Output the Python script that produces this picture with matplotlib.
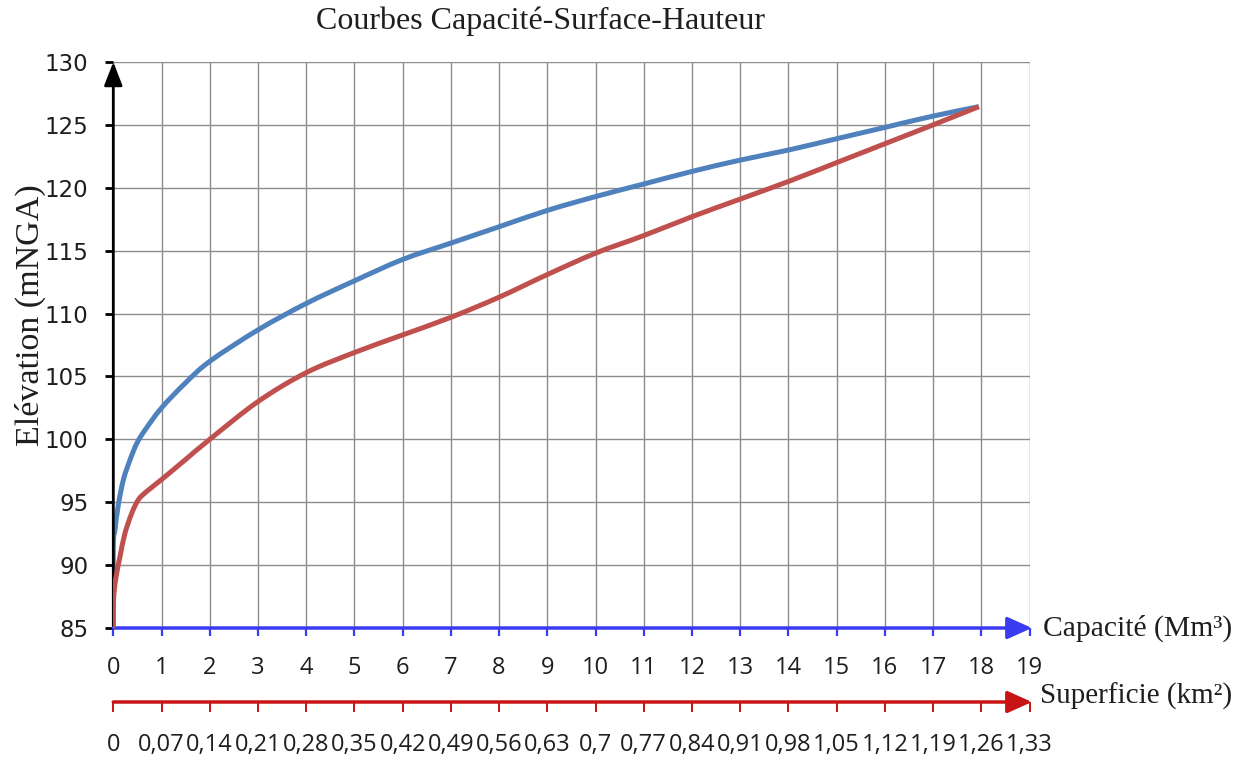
import matplotlib
matplotlib.use("Agg")
import matplotlib.pyplot as plt
from matplotlib.path import Path
from matplotlib.patches import PathPatch

# Courbe capacité : volume stocké (Mm³) selon la cote du plan d'eau
cap_elev = [85, 91.5, 92.8, 94.7, 96.8, 98.4, 99.7, 100.75, 102.5,
            104.5, 106.2, 108.7, 110.8, 112.6, 114.3, 115.6, 116.9, 118.2,
            119.3, 120.3, 121.3, 122.2, 123.0, 123.9, 124.8, 125.7, 126.45]
cap_volume = [0, 0, 0.035, 0.10, 0.21, 0.35, 0.49, 0.66, 1.0,
              1.5, 2, 3, 4, 5, 6, 7, 8, 9,
              10, 11, 12, 13, 14, 15, 16, 17, 17.95]

# Courbe surface : superficie du plan d'eau (km²) selon la cote
surf_elev = [85, 87.2, 88.9, 90.7, 92.5, 94.1, 95.2, 95.85, 96.8, 98.4,
             100.0, 103.0, 105.3, 106.9, 108.3, 109.7, 111.3, 113.1, 114.8,
             116.2, 117.7, 119.1, 120.5, 122.0, 123.5, 125.0, 126.45]
surf_area = [0, 0.0003, 0.0035, 0.0098, 0.0168, 0.0266, 0.0364, 0.0483,
             0.070, 0.105, 0.14, 0.21, 0.28, 0.35, 0.42, 0.49, 0.56, 0.63,
             0.70, 0.77, 0.84, 0.91, 0.98, 1.05, 1.12, 1.19, 1.2565]

cap_ticks = list(range(0, 20))
area_step = 0.07
area_ticks = [round(i * area_step, 2) for i in cap_ticks]
elev_ticks = list(range(85, 131, 5))


def fr_label(v):
    s = f"{v:.2f}".rstrip("0").rstrip(".")
    return s.replace(".", ",")


area_labels = [fr_label(v) for v in area_ticks]
cap_labels = [str(t) for t in cap_ticks]
elev_labels = [str(t) for t in elev_ticks]


def smooth_path(xs, ys):
    """Courbe lissée (Bézier de type Catmull-Rom) passant par tous les points."""
    pts = list(zip(xs, ys))
    n = len(pts)
    verts = [pts[0]]
    codes = [Path.MOVETO]
    for i in range(n - 1):
        p0 = pts[i - 1] if i > 0 else pts[i]
        p1 = pts[i]
        p2 = pts[i + 1]
        p3 = pts[i + 2] if i + 2 < n else pts[i + 1]
        c1 = (p1[0] + (p2[0] - p0[0]) / 6, p1[1] + (p2[1] - p0[1]) / 6)
        c2 = (p2[0] - (p3[0] - p1[0]) / 6, p2[1] - (p3[1] - p1[1]) / 6)
        verts += [c1, c2, p2]
        codes += [Path.CURVE4] * 3
    return Path(verts, codes)


label_font = ["Open Sans", "DejaVu Sans"]
serif = ["Liberation Serif", "DejaVu Serif"]

c_cap = "#4F81BD"
c_surf = "#C0504D"
c_cap_axis = "#3B3BF2"
c_surf_axis = "#C81414"
c_grid = "#8C8C8C"

W, H = 1243, 760
fig = plt.figure(figsize=(W / 100, H / 100), dpi=100)
fig.patch.set_facecolor("white")

x0, x1, y_top, y_bot = 113.3, 1029.5, 62, 628
ax = fig.add_axes([x0 / W, 1 - y_bot / H, (x1 - x0) / W, (y_bot - y_top) / H])
ax.set_xlim(0, 19)
ax.set_ylim(85, 130)
for s in ax.spines.values():
    s.set_visible(False)
ax.set_axisbelow(True)
ax.grid(True, color=c_grid, lw=1.0)

ax.set_yticks(elev_ticks, labels=elev_labels, fontsize=16.5, family="DejaVu Sans")
ax.tick_params(axis="y", direction="out", length=6, width=2, color="black",
               labelcolor="#1E1E1E", pad=12)
ax.set_xticks(cap_ticks, labels=cap_labels, fontsize=17, family=label_font)
ax.tick_params(axis="x", direction="out", length=6, width=1.6, color=c_cap_axis,
               labelcolor="#1E1E1E", pad=14)

ax.add_patch(PathPatch(smooth_path(cap_volume, cap_elev), fill=False,
                       edgecolor=c_cap, lw=3.6, capstyle="butt", zorder=3))

# axe de la superficie, avec sa propre échelle en km²
ax2 = ax.twiny()
ax2.set_xlim(0, 19 * area_step)
ax2.set_ylim(85, 130)
for s in ax2.spines.values():
    s.set_visible(False)
surf_pos = -(702 - y_bot) / (y_bot - y_top)
ax2.spines["bottom"].set_position(("axes", surf_pos))
ax2.xaxis.set_ticks_position("bottom")
ax2.xaxis.set_label_position("bottom")
ax2.set_xticks(area_ticks, labels=area_labels, fontsize=17, family=label_font)
ax2.tick_params(axis="x", direction="out", length=7, width=1.4, color=c_surf_axis,
                labelcolor="#1E1E1E", pad=15)
ax2.add_patch(PathPatch(smooth_path(surf_area, surf_elev), fill=False,
                        edgecolor=c_surf, lw=3.6, capstyle="butt", zorder=4))

# flèches des axes
ax.annotate("", xy=(0, 130), xytext=(0, 85), xycoords="data",
            arrowprops=dict(arrowstyle="-|>,head_length=0.9,head_width=0.35",
                            color="black", lw=2, shrinkA=0, shrinkB=0,
                            mutation_scale=16),
            annotation_clip=False, zorder=5)
ax.annotate("", xy=(19.05, 85), xytext=(0, 85), xycoords="data",
            arrowprops=dict(arrowstyle="-|>,head_length=1.0,head_width=0.45",
                            color=c_cap_axis, lw=2.5, shrinkA=0, shrinkB=0,
                            mutation_scale=15),
            annotation_clip=False, zorder=5)
ax2.annotate("", xy=(19.05 * area_step, surf_pos), xytext=(0, surf_pos),
             xycoords=("data", "axes fraction"),
             arrowprops=dict(arrowstyle="-|>,head_length=1.0,head_width=0.45",
                             color=c_surf_axis, lw=2.5, shrinkA=0, shrinkB=0,
                             mutation_scale=15),
             annotation_clip=False, zorder=5)

fig.text(541 / W, 1 - 21 / H, "Courbes Capacité-Surface-Hauteur", ha="center",
         va="center", fontsize=23, family=serif, color="#1E1E1E")
fig.text(30 / W, 1 - 315 / H, "Elévation (mNGA)", ha="center", va="center",
         rotation=90, fontsize=24.5, family=serif, color="#1E1E1E")
fig.text(1043 / W, 1 - 628 / H, "Capacité (Mm³)", ha="left", va="center",
         fontsize=21.3, family=serif, color="#1E1E1E")
fig.text(1040 / W, 1 - 696 / H, "Superficie (km²)", ha="left", va="center",
         fontsize=21, family=serif, color="#1E1E1E")

fig.savefig("out.png", dpi=100, facecolor="white")
